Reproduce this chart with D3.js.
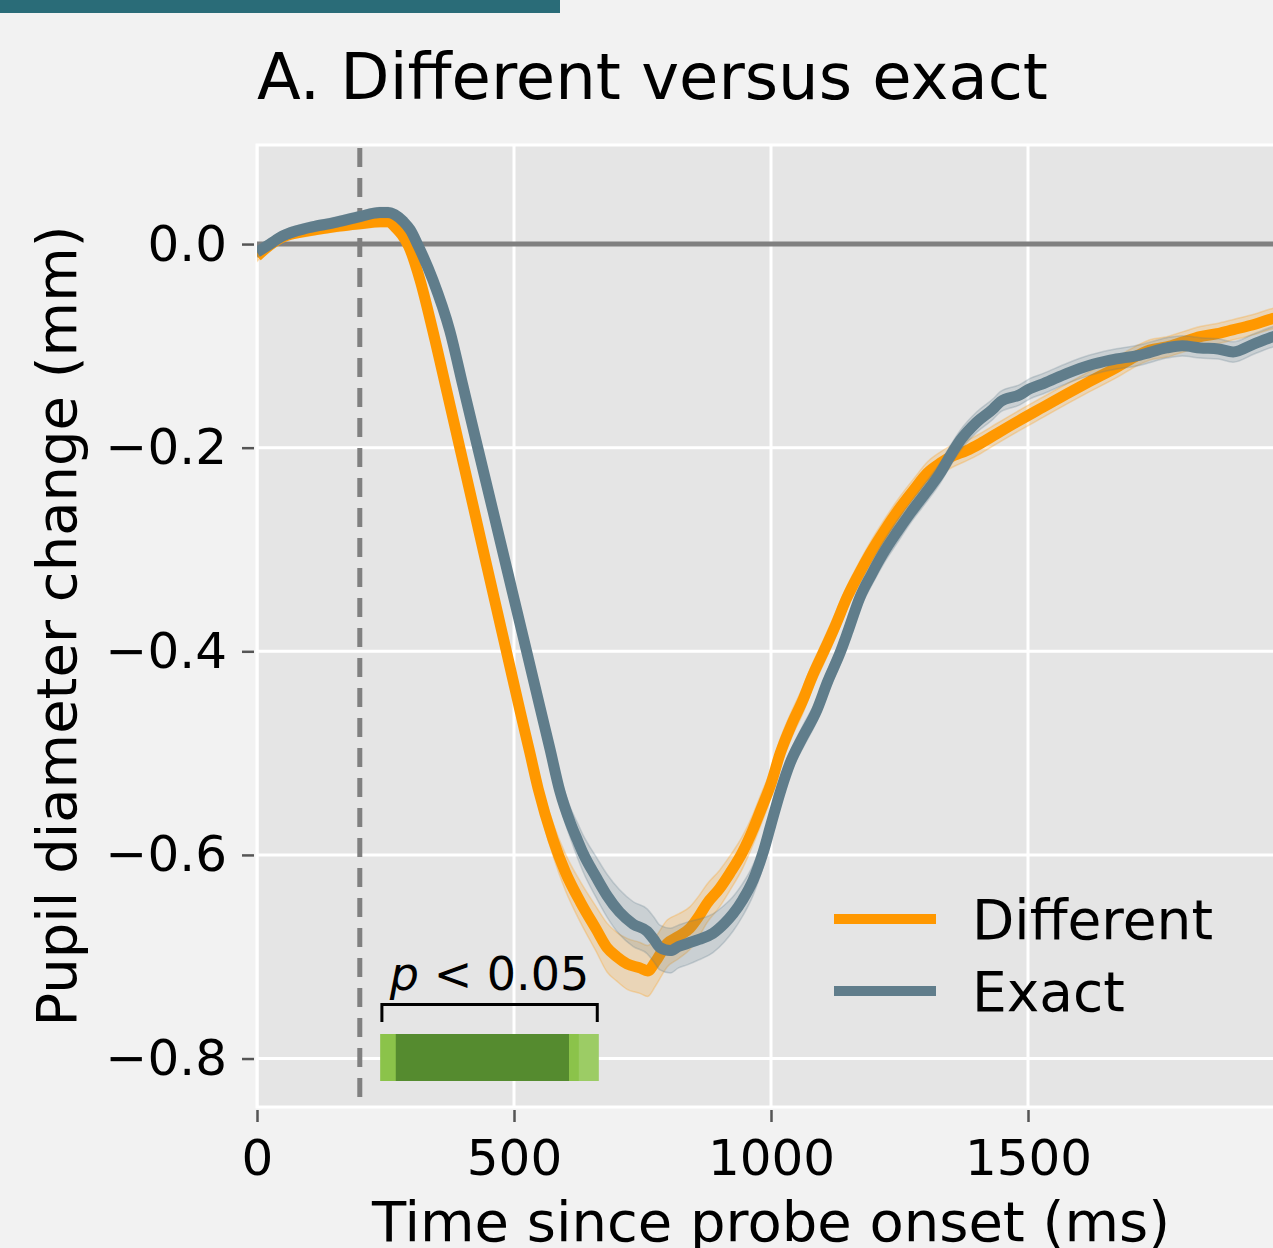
<!DOCTYPE html>
<html>
<head>
<meta charset="utf-8">
<script src="https://d3js.org/d3.v7.min.js"></script>
<style>
  body { margin: 0; background: #f2f2f2; }
  svg { display: block; font-family: "DejaVu Sans", sans-serif; }
</style>
</head>
<body>
<svg id="drawing_region"></svg>
<script>
const titleText = "A. Different versus exact";
const xLabel = "Time since probe onset (ms)";
const yLabel = "Pupil diameter change (mm)";
const seriesNames = ["Different", "Exact"];

const xTicks = [0, 500, 1000, 1500];
const yTicks = [0, -0.2, -0.4, -0.6, -0.8];
const onsetMarker = 200;

// Different (orange)
const diffTime = [0, 25, 50, 100, 150, 200, 240, 255, 270, 282, 295, 317, 342, 370, 395, 420,
  447, 467, 488, 512, 531, 547, 576, 600, 630, 660, 681, 700, 720, 745, 760, 775, 798, 820, 842,
  860, 875, 900, 920, 945, 965, 980, 1000, 1018, 1040, 1062, 1080, 1101, 1125, 1148, 1170, 1193,
  1220, 1251, 1280, 1304, 1330, 1354, 1380, 1407, 1440, 1484, 1530, 1576, 1620, 1673, 1700, 1737,
  1770, 1802, 1835, 1868, 1900, 1932, 1977, 2000];
const diffMean = [-0.012, -0.001, 0.007, 0.013, 0.017, 0.020, 0.022, 0.022, 0.016, 0.009, -0.002,
  -0.035, -0.085, -0.146, -0.201, -0.256, -0.316, -0.360, -0.406, -0.459, -0.500, -0.535, -0.585,
  -0.617, -0.647, -0.673, -0.691, -0.700, -0.707, -0.711, -0.714, -0.705, -0.687, -0.680, -0.672,
  -0.660, -0.648, -0.633, -0.618, -0.597, -0.575, -0.556, -0.530, -0.500, -0.472, -0.448, -0.425,
  -0.402, -0.375, -0.347, -0.325, -0.304, -0.282, -0.259, -0.240, -0.225, -0.215, -0.208, -0.203,
  -0.196, -0.186, -0.173, -0.160, -0.147, -0.135, -0.121, -0.113, -0.104, -0.101, -0.096, -0.091,
  -0.088, -0.084, -0.080, -0.073, -0.070];
const diffCi = [0.005, 0.005, 0.005, 0.005, 0.005, 0.005, 0.005, 0.005, 0.005, 0.005, 0.005,
  0.006, 0.007, 0.008, 0.008, 0.009, 0.010, 0.010, 0.011, 0.012, 0.013, 0.014, 0.016, 0.018, 0.020,
  0.022, 0.024, 0.024, 0.025, 0.025, 0.025, 0.024, 0.023, 0.022, 0.021, 0.020, 0.019, 0.018, 0.017,
  0.016, 0.015, 0.015, 0.014, 0.014, 0.013, 0.013, 0.012, 0.012, 0.012, 0.011, 0.011, 0.011, 0.011,
  0.011, 0.011, 0.011, 0.011, 0.011, 0.010, 0.010, 0.010, 0.010, 0.010, 0.010, 0.010, 0.010, 0.010,
  0.010, 0.010, 0.010, 0.010, 0.010, 0.010, 0.010, 0.010, 0.010];

// Exact (blue grey)
const exactTime = [0, 25, 50, 100, 150, 200, 239, 255, 268, 285, 298, 313, 342, 375, 401, 428,
  459, 488, 506, 525, 551, 570, 589, 610, 623, 634, 660, 681, 705, 732, 759, 772, 784, 804, 820,
  837, 860, 887, 910, 926, 945, 965, 985, 1000, 1020, 1037, 1062, 1089, 1110, 1134, 1150, 1173,
  1195, 1218, 1245, 1270, 1300, 1329, 1350, 1368, 1400, 1432, 1446, 1484, 1504, 1530, 1576, 1620,
  1660, 1718, 1770, 1800, 1835, 1870, 1899, 1940, 1977, 2000];
const exactMean = [-0.008, 0.000, 0.008, 0.016, 0.021, 0.027, 0.031, 0.031, 0.029, 0.022, 0.014,
  -0.001, -0.035, -0.085, -0.140, -0.197, -0.262, -0.323, -0.361, -0.401, -0.456, -0.496, -0.537,
  -0.569, -0.585, -0.598, -0.622, -0.640, -0.656, -0.668, -0.675, -0.683, -0.691, -0.694, -0.690,
  -0.687, -0.683, -0.677, -0.667, -0.658, -0.644, -0.625, -0.597, -0.570, -0.535, -0.510, -0.484,
  -0.458, -0.430, -0.402, -0.380, -0.347, -0.325, -0.304, -0.283, -0.265, -0.245, -0.225, -0.207,
  -0.193, -0.175, -0.162, -0.155, -0.148, -0.142, -0.137, -0.127, -0.119, -0.114, -0.109, -0.102,
  -0.100, -0.102, -0.103, -0.106, -0.098, -0.091, -0.088];
const exactCi = [0.005, 0.005, 0.005, 0.005, 0.005, 0.005, 0.005, 0.005, 0.005, 0.005, 0.005, 0.005,
  0.006, 0.006, 0.007, 0.008, 0.009, 0.010, 0.010, 0.011, 0.012, 0.013, 0.014, 0.015, 0.017, 0.018,
  0.020, 0.021, 0.022, 0.022, 0.022, 0.022, 0.022, 0.022, 0.021, 0.021, 0.020, 0.019, 0.018, 0.017,
  0.016, 0.015, 0.014, 0.013, 0.012, 0.011, 0.011, 0.011, 0.011, 0.011, 0.011, 0.011, 0.011, 0.011,
  0.011, 0.010, 0.010, 0.010, 0.010, 0.010, 0.010, 0.010, 0.010, 0.010, 0.010, 0.010, 0.010, 0.010,
  0.010, 0.010, 0.010, 0.010, 0.010, 0.010, 0.010, 0.010, 0.010, 0.010];

// significance clusters (ms)
const sigStart = [240, 240, 270];
const sigEnd = [665, 626, 607];
const bracketRange = [243, 662];
const sigLabel = ["p", " < 0.05"];

class PupilChart {
  constructor(config) {
    this.config = config;
    this.init();
  }

  init() {
    let self = this;
    const c = self.config;

    self.svg = d3.select(c.parent)
      .attr("width", c.width)
      .attr("height", c.height);

    self.svg.append("rect")
      .attr("width", c.width).attr("height", c.height)
      .attr("fill", "#f2f2f2");

    // teal strip at top
    self.svg.append("rect")
      .attr("x", 0).attr("y", 0)
      .attr("width", 560).attr("height", 13)
      .attr("fill", "#2a6c78");

    self.xscale = d3.scaleLinear()
      .domain([0, 2000])
      .range([c.left, c.left + 1028]);

    self.yscale = d3.scaleLinear()
      .domain([-0.8476, 0.0973])
      .range([c.bottom, c.top]);

    self.line = d3.line()
      .x(d => self.xscale(d.t))
      .y(d => self.yscale(d.m))
      .curve(d3.curveMonotoneX);

    self.area = d3.area()
      .x(d => self.xscale(d.t))
      .y0(d => self.yscale(d.m - d.ci))
      .y1(d => self.yscale(d.m + d.ci))
      .curve(d3.curveMonotoneX);
  }

  render() {
    let self = this;
    const c = self.config;
    const x = self.xscale, y = self.yscale;
    const right = x(2000);

    self.svg.append("clipPath").attr("id", "plotclip")
      .append("rect")
      .attr("x", c.left).attr("y", c.top)
      .attr("width", right - c.left).attr("height", c.bottom - c.top);

    self.svg.append("rect")
      .attr("x", c.left).attr("y", c.top)
      .attr("width", right - c.left).attr("height", c.bottom - c.top)
      .attr("fill", "#e5e5e5")
      .attr("stroke", "#ffffff")
      .attr("stroke-width", 3);

    const plot = self.svg.append("g").attr("clip-path", "url(#plotclip)");

    // grid
    plot.selectAll(".vgrid").data(xTicks).enter().append("line")
      .attr("x1", d => x(d)).attr("x2", d => x(d))
      .attr("y1", c.top).attr("y2", c.bottom)
      .attr("stroke", "#ffffff").attr("stroke-width", 3);
    plot.selectAll(".hgrid").data(yTicks).enter().append("line")
      .attr("x1", c.left).attr("x2", right)
      .attr("y1", d => y(d)).attr("y2", d => y(d))
      .attr("stroke", "#ffffff").attr("stroke-width", 3);

    // zero line and onset marker
    plot.append("line")
      .attr("x1", c.left).attr("x2", right)
      .attr("y1", y(0)).attr("y2", y(0))
      .attr("stroke", "#808080").attr("stroke-width", 5);
    plot.append("line")
      .attr("x1", x(onsetMarker)).attr("x2", x(onsetMarker))
      .attr("y1", c.top + 3).attr("y2", c.bottom)
      .attr("stroke", "#808080").attr("stroke-width", 5)
      .attr("stroke-dasharray", "19,11");

    // significance
    const sigColors = ["#9ccc65", "#8bc34a", "#558b2f"];
    plot.selectAll(".sig").data(sigStart).enter().append("rect")
      .attr("x", (d, i) => x(d))
      .attr("width", (d, i) => x(sigEnd[i]) - x(d))
      .attr("y", 1034).attr("height", 47)
      .attr("fill", (d, i) => sigColors[i]);

    const bx0 = x(bracketRange[0]), bx1 = x(bracketRange[1]);
    self.svg.append("path")
      .attr("d", `M${bx0},1022 V1004.5 H${bx1} V1022`)
      .attr("fill", "none").attr("stroke", "#000").attr("stroke-width", 3);

    const pt = self.svg.append("text")
      .attr("x", (bx0 + bx1) / 2).attr("y", 990)
      .attr("text-anchor", "middle")
      .attr("font-size", 46);
    pt.append("tspan").attr("font-style", "italic").text(sigLabel[0]);
    pt.append("tspan").text(sigLabel[1]);

    // series
    const diffData = diffTime.map((t, i) => ({t: t, m: diffMean[i], ci: diffCi[i]}));
    const exactData = exactTime.map((t, i) => ({t: t, m: exactMean[i], ci: exactCi[i]}));
    const series = [
      {data: diffData, color: "#ff9800"},
      {data: exactData, color: "#607d8b"}
    ];
    series.forEach(s => {
      plot.append("path")
        .attr("d", self.area(s.data))
        .attr("fill", s.color).attr("fill-opacity", 0.2)
        .attr("stroke", s.color).attr("stroke-opacity", 0.25).attr("stroke-width", 1.5);
      plot.append("path")
        .attr("d", self.line(s.data))
        .attr("fill", "none")
        .attr("stroke", s.color).attr("stroke-width", 11)
        .attr("stroke-linejoin", "round");
    });

    // axes
    const yaxis = d3.axisLeft(y)
      .tickValues(yTicks)
      .tickFormat(d3.format(".1f"))
      .tickSize(12).tickPadding(15);
    const yg = self.svg.append("g")
      .attr("transform", `translate(${c.left - 3}, 0)`)
      .call(yaxis);
    const xaxis = d3.axisBottom(x)
      .tickValues(xTicks)
      .tickFormat(d3.format("d"))
      .tickSize(12).tickPadding(17);
    const xg = self.svg.append("g")
      .attr("transform", `translate(0, ${c.bottom + 3})`)
      .call(xaxis);
    [xg, yg].forEach(g => {
      g.select(".domain").remove();
      g.selectAll(".tick line").attr("stroke", "#555").attr("stroke-width", 2.5);
      g.selectAll(".tick text")
        .attr("fill", "#000")
        .attr("font-size", 50)
        .attr("font-family", "DejaVu Sans");
    });

    // labels
    self.svg.append("text")
      .attr("x", c.left).attr("y", 99)
      .attr("font-size", 64)
      .text(titleText);

    self.svg.append("text")
      .attr("x", x(1000)).attr("y", 1241)
      .attr("text-anchor", "middle")
      .attr("font-size", 56)
      .text(xLabel);

    self.svg.append("text")
      .attr("transform", `translate(76, ${(c.top + c.bottom) / 2}) rotate(-90)`)
      .attr("text-anchor", "middle")
      .attr("font-size", 56)
      .text(yLabel);

    // legend
    const legendY = [919, 991];
    const legendColors = ["#ff9800", "#607d8b"];
    const lg = self.svg.append("g");
    lg.selectAll("line").data(seriesNames).enter().append("line")
      .attr("x1", 834).attr("x2", 936)
      .attr("y1", (d, i) => legendY[i]).attr("y2", (d, i) => legendY[i])
      .attr("stroke", (d, i) => legendColors[i]).attr("stroke-width", 10);
    lg.selectAll("text").data(seriesNames).enter().append("text")
      .attr("x", 972)
      .attr("y", (d, i) => legendY[i] + 20)
      .attr("font-size", 55)
      .text(d => d);
  }
}

const chart = new PupilChart({
  parent: "#drawing_region",
  width: 1273,
  height: 1248,
  left: 257,
  top: 145,
  bottom: 1107
});
chart.render();
</script>
</body>
</html>
